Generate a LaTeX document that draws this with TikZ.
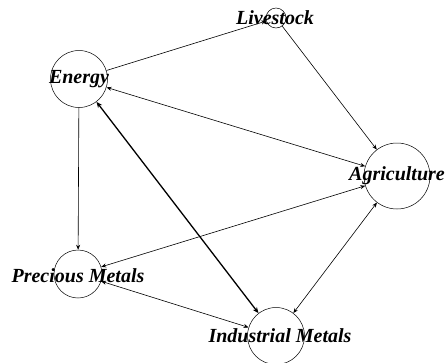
\documentclass[tikz,border=0pt]{standalone}
\usepackage{fontspec}
\setmainfont{Liberation Serif}
\usetikzlibrary{arrows.meta}
\begin{document}
\begin{tikzpicture}[x=1pt,y=-1pt,
  vert/.style={circle,draw,line width=0.5pt,inner sep=0pt,minimum size=#1},
  lab/.style={font=\fontsize{20}{20}\selectfont\bfseries\itshape},
  edge/.style={line width=0.6pt,-{Stealth[length=5pt,width=4pt]}},
  bedge/.style={line width=0.6pt,{Stealth[length=5pt,width=4pt]}-{Stealth[length=5pt,width=4pt]}},
  thick edge/.style={line width=1.3pt,{Stealth[length=6pt,width=5pt]}-{Stealth[length=6pt,width=5pt]}}]
\useasboundingbox (0,0) rectangle (446,362);
\node[vert=57pt] (en) at (79,79) {};
\node[vert=20pt] (li) at (276,18) {};
\node[vert=66pt] (ag) at (397,176) {};
\node[vert=48pt] (pm) at (78,274) {};
\node[vert=57pt] (im) at (276,336) {};
\draw[edge] (en) -- (li);
\draw[edge] (li) -- (ag);
\draw[bedge] (en) -- (ag);
\draw[thick edge] (en) -- (im);
\draw[edge] (en) -- (pm);
\draw[bedge] (pm) -- (ag);
\draw[bedge] (pm) -- (im);
\draw[bedge] (ag) -- (im);
\node[lab] (enl) at (79,79) {Energy};
\node[lab] (lil) at (275,18) {Livestock};
\node[lab] (agl) at (397,176) {Agriculture};
\node[lab] (pml) at (78,276) {Precious Metals};
\node[lab] (iml) at (280,336) {Industrial Metals};
\end{tikzpicture}
\end{document}
